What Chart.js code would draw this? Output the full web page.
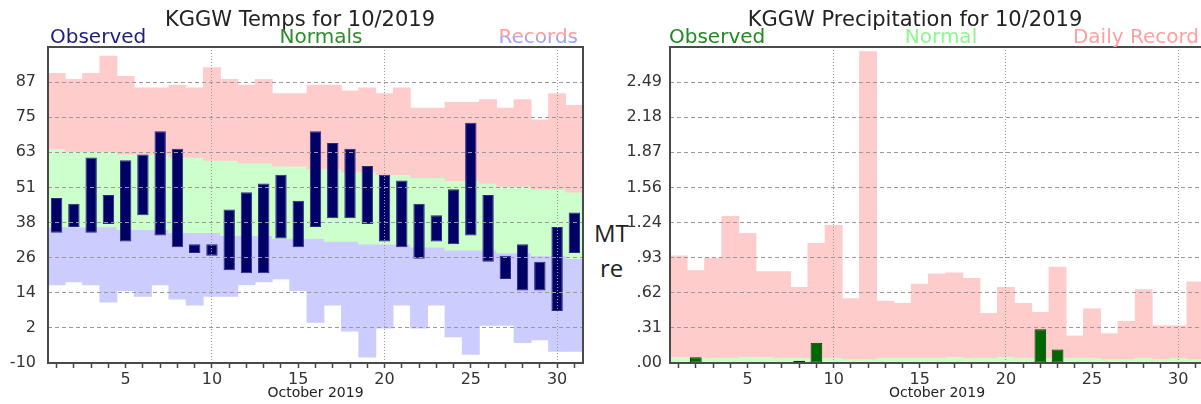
<!DOCTYPE html>
<html>
<head>
<meta charset="utf-8">
<script src="https://cdn.jsdelivr.net/npm/chart.js@4.4.1/dist/chart.umd.min.js"></script>
<style>
  body { margin: 0; width: 1201px; height: 404px; overflow: hidden; background: #fff; position: relative; }
  canvas { position: absolute; top: 0; }
  #temps { left: 0; }
  #precip { left: 615px; }
  .behind { position: absolute; font: 24px "Open Sans"; color: #222; }
</style>
</head>
<body>
<div class="behind" style="left:594px;top:216px">MT</div>
<div class="behind" style="left:600px;top:251px">re</div>
<canvas id="temps" width="600" height="404"></canvas>
<canvas id="precip" width="600" height="404"></canvas>
<script>
// days of October 2019
const days = ['1','2','3','4','5','6','7','8','9','10','11','12','13','14','15','16',
              '17','18','19','20','21','22','23','24','25','26','27','28','29','30','31'];

// temperatures (F)
const obsHigh  = [47,45,61,48,60,62,70,64,31,31,43,49,52,55,46,70,66,64,58,55,53,45,41,50,73,48,27,31,25,37,42];
const obsLow   = [35,37,35,38,32,41,34,30,28,27,22,21,21,33,30,37,40,40,38,32,30,26,32,31,34,25,19,15,15,8,28];
const normHigh = [64,63,63,63,62,62,62,61,61,60,60,59,59,58,58,57,57,56,56,55,55,54,54,53,53,52,51,51,50,50,49];
const normLow  = [37,37,37,37,36,36,36,35,35,35,34,34,34,33,33,33,32,32,31,31,31,30,30,29,29,29,28,28,27,27,26];
const recHigh  = [90,88,90,96,89,85,85,86,85,92,88,86,88,83,83,86,86,84,85,83,85,78,78,80,80,81,78,81,74,83,79];
const recLow   = [17,18,17,11,15,13,17,12,10,13,13,17,18,19,15,4,10,1,-8,2,10,2,10,-1,-7,3,3,-3,-2,-6,-6];
const tempTickLabels = ['-10','2','14','26','38','51','63','75','87',''];

// precipitation (in)
const precipObs    = [0,0.05,0,0,0,0,0,0.02,0.18,0,0,0,0,0,0,0,0,0,0,0,0,0.30,0.12,0,0,0,0,0,0,0,0];
const precipNormal = [0.05,0.05,0.04,0.04,0.05,0.05,0.04,0.04,0.04,0.04,0.03,0.03,0.04,0.04,0.04,0.04,
                      0.05,0.04,0.04,0.05,0.04,0.04,0.04,0.04,0.04,0.03,0.03,0.04,0.03,0.04,0.03];
const precipRecord = [0.95,0.82,0.93,1.30,1.15,0.81,0.81,0.67,1.06,1.22,0.57,2.76,0.55,0.53,0.70,0.79,
                      0.80,0.75,0.44,0.67,0.53,0.45,0.85,0.24,0.48,0.26,0.37,0.65,0.33,0.33,0.72];
const precipTickLabels = ['.00','.31','.62','.93','1.24','1.56','1.87','2.18','2.49',''];

const FONT = '"DejaVu Sans", Verdana, sans-serif';

// box round the plot + title and coloured header words
const frame = {
    id: 'frame',
    afterDraw(chart, args, opts) {
        const { ctx, chartArea: a } = chart;
        ctx.save();
        ctx.strokeStyle = '#4a4a4a';
        ctx.lineWidth = 2;
        ctx.strokeRect(a.left, a.top, a.right - a.left, a.bottom - a.top);

        ctx.textBaseline = 'alphabetic';
        ctx.fillStyle = '#222';
        ctx.font = '21px ' + FONT;
        ctx.textAlign = 'center';
        ctx.fillText(opts.title, 300, 26);

        ctx.font = '20px ' + FONT;
        opts.labels.forEach(l => {
            ctx.textAlign = l.align;
            if (Array.isArray(l.color)) {
                const g = ctx.createLinearGradient(0, 28, 0, 44);
                g.addColorStop(0, l.color[0]);
                g.addColorStop(0.5, l.color[0]);
                g.addColorStop(0.56, l.color[1]);
                g.addColorStop(1, l.color[1]);
                ctx.fillStyle = g;
            } else {
                ctx.fillStyle = l.color;
            }
            ctx.fillText(l.text, l.x, 43);
        });
        ctx.restore();
    }
};

function xScale(leftWidth) {
    return {
        offset: true,
        afterFit: s => { s.height = 41; },
        grid: {
            offset: false,
            z: 1,
            color: c => (c.index + 1) % 10 === 0 ? '#999' : 'rgba(0,0,0,0)',
            lineWidth: 1,
            drawTicks: true,
            tickLength: 5,
            tickWidth: 1.5,
            tickColor: '#444'
        },
        border: { display: false, dash: [1, 2] },
        ticks: {
            autoSkip: false,
            maxRotation: 0,
            minRotation: 0,
            padding: 2,
            color: '#333',
            font: { family: FONT, size: 16 },
            callback: (v, i) => (i + 1) % 5 === 0 ? days[i] : ''
        },
        title: {
            display: true,
            text: 'October 2019',
            color: '#222',
            font: { family: FONT, size: 14 },
            padding: { top: 0, bottom: 2 }
        }
    };
}

function yScale(width, min, max, step, labels, pad) {
    return {
        min: min,
        max: max,
        afterFit: s => { s.width = width; },
        grid: { z: 1, color: '#9a9a9a', lineWidth: 1, drawTicks: false },
        border: { display: false, dash: [4, 3] },
        ticks: {
            stepSize: step,
            padding: pad,
            color: '#333',
            font: { family: FONT, size: 16 },
            callback: (v, i) => labels[i]
        }
    };
}

const band = { barPercentage: 1, categoryPercentage: 1, borderWidth: 0 };

new Chart(document.getElementById('temps'), {
    type: 'bar',
    data: {
        labels: days,
        datasets: [
            { label: 'Observed', data: days.map((d, i) => [obsLow[i], obsHigh[i]]),
              backgroundColor: '#000066', borderColor: '#2b2b7d', borderWidth: 1, borderSkipped: false,
              barPercentage: 0.66, categoryPercentage: 1 },
            Object.assign({ label: 'Record high', data: days.map((d, i) => [normHigh[i], recHigh[i]]),
              backgroundColor: '#ffcccc' }, band),
            Object.assign({ label: 'Normals', data: days.map((d, i) => [normLow[i], normHigh[i]]),
              backgroundColor: '#ccffcc' }, band),
            Object.assign({ label: 'Record low', data: days.map((d, i) => [recLow[i], normLow[i]]),
              backgroundColor: '#ccccff' }, band)
        ]
    },
    options: {
        responsive: false,
        animation: false,
        datasets: { bar: { grouped: false } },
        layout: { padding: { top: 47, left: 0, right: 17, bottom: 0 } },
        scales: {
            x: xScale(),
            y: yScale(48, -10, 99.125, 12.125, tempTickLabels, 12)
        },
        plugins: {
            legend: { display: false },
            tooltip: { enabled: false },
            frame: {
                title: 'KGGW Temps for 10/2019',
                labels: [
                    { text: 'Observed', x: 50, align: 'left', color: '#1e1e80' },
                    { text: 'Normals', x: 321, align: 'center', color: '#2a8c2a' },
                    { text: 'Records', x: 578, align: 'right', color: ['#ff9c9c', '#a0a0ff'] }
                ]
            }
        }
    },
    plugins: [frame]
});

new Chart(document.getElementById('precip'), {
    type: 'bar',
    data: {
        labels: days,
        datasets: [
            { label: 'Observed', data: precipObs,
              backgroundColor: '#006600', borderColor: '#003300',
              borderWidth: c => c.raw > 0 ? 1 : 0, borderSkipped: false,
              barPercentage: 0.68, categoryPercentage: 1 },
            Object.assign({ label: 'Normal', data: precipNormal, backgroundColor: '#ccffcc' }, band),
            Object.assign({ label: 'Daily Record', data: precipRecord, backgroundColor: '#ffcccc' }, band)
        ]
    },
    options: {
        responsive: false,
        animation: false,
        datasets: { bar: { grouped: false } },
        layout: { padding: { top: 47, left: 0, right: 11, bottom: 0 } },
        scales: {
            x: xScale(),
            y: yScale(55, 0, 2.80125, 0.31125, precipTickLabels, 8)
        },
        plugins: {
            legend: { display: false },
            tooltip: { enabled: false },
            frame: {
                title: 'KGGW Precipitation for 10/2019',
                labels: [
                    { text: 'Observed', x: 54, align: 'left', color: '#1f8a1f' },
                    { text: 'Normal', x: 326, align: 'center', color: '#8cf78c' },
                    { text: 'Daily Record', x: 584, align: 'right', color: '#ff9f9f' }
                ]
            }
        }
    },
    plugins: [frame]
});
</script>
</body>
</html>
